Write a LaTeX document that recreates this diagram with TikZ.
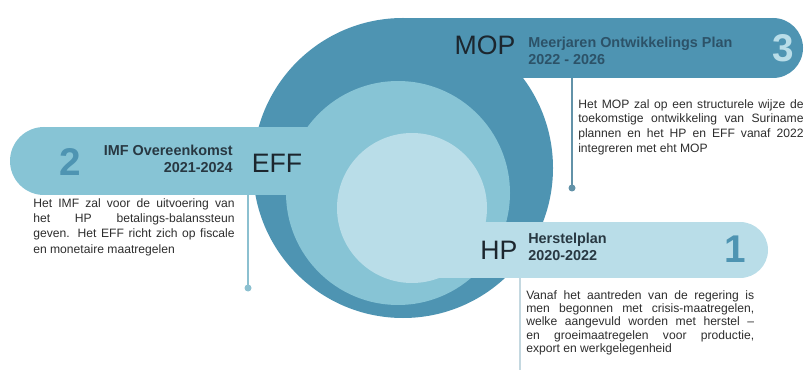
\documentclass[tikz,border=0pt]{standalone}
\usepackage{fontspec}
\setmainfont{Liberation Sans}
\definecolor{ringDark}{RGB}{78,148,178}
\definecolor{ringMid}{RGB}{135,196,213}
\definecolor{ringLight}{RGB}{185,221,232}
\definecolor{labelInk}{RGB}{28,38,46}
\definecolor{mopInk}{RGB}{44,82,104}
\definecolor{subInk}{RGB}{40,56,66}
\definecolor{bodyInk}{RGB}{45,45,45}
\definecolor{stemMop}{RGB}{98,146,168}
\definecolor{stemEff}{RGB}{140,192,208}
\definecolor{stemHp}{RGB}{196,216,224}

\begin{document}
\begin{tikzpicture}[x=0.75pt,y=0.75pt,yscale=-1,xscale=1,
  bigLabel/.style={inner sep=0.75pt,font=\fontsize{20}{20}\selectfont,text=labelInk},
  subTitle/.style={inner sep=0.75pt,font=\fontsize{10.8}{13}\selectfont\bfseries},
  stepNum/.style={inner sep=0.75pt,font=\fontsize{29}{29}\selectfont\bfseries},
  bodyText/.style={anchor=north west,inner sep=0pt,align=justify,text=bodyInk},
  stem/.style={line width=1.5pt}]
\useasboundingbox (0,0) rectangle (806,370);

%Outer ring with MOP banner
\fill[ringDark] (403,168) circle (150);
\fill[ringDark] (403,18) rectangle (773,78);
\fill[ringDark] (773,48) circle (30);
%EFF banner and middle ring
\fill[ringMid] (44,127) rectangle (398,195);
\fill[ringMid] (44,161) circle (34);
\fill[ringMid] (398,193) circle (112);
%HP banner and inner disc
\fill[ringLight] (412,222) rectangle (740,278);
\fill[ringLight] (740,250) circle (28);
\fill[ringLight] (412,208) circle (75);

%stems
\coordinate (mopStemTop) at (572,78);
\coordinate (mopStemEnd) at (572,188);
\coordinate (effStemTop) at (248,195);
\coordinate (effStemEnd) at (248,288);
\coordinate (hpStemTop) at (520,278);
\coordinate (hpStemEnd) at (520,370);
\draw[stem,stemMop] (mopStemTop) -- (mopStemEnd);
\fill[stemMop] (mopStemEnd) circle (3.5);
\draw[stem,stemEff] (effStemTop) -- (effStemEnd);
\fill[stemEff] (effStemEnd) circle (3.5);
\draw[stem,stemHp,line width=1.1pt] (hpStemTop) -- (hpStemEnd);

% MOP
\node[bigLabel] (mop) at (485,45) {MOP};
\node[subTitle,anchor=west,align=left,text=mopInk] (mopTitle) at (527,51) {Meerjaren Ontwikkelings Plan\\2022 - 2026};
\node[stepNum,text=ringLight] (num3) at (783,48) {3};
\node[bodyText,text width=169pt,font=\fontsize{9.1}{11.2}\selectfont] (mopText) at (578,99) {\hyphenpenalty=10000 Het MOP zal op een structurele wijze de\linebreak toekomstige ontwikkeling van Suriname\linebreak plannen en het HP en EFF vanaf 2022\linebreak integreren met eht MOP};

% EFF
\node[bigLabel] (eff) at (277,163) {EFF};
\node[subTitle,anchor=east,align=right,text=subInk] (effTitle) at (234,159) {IMF Overeenkomst\\2021-2024};
\node[stepNum,text=ringDark] (num2) at (70,162) {2};
\node[bodyText,text width=151pt,font=\fontsize{9.1}{11.6}\selectfont] (effText) at (33,198) {\hyphenpenalty=10000 Het IMF zal voor de uitvoering van\linebreak het HP betalings-balanssteun\linebreak geven. Het EFF richt zich op fiscale\linebreak en monetaire maatregelen};

% HP
\node[bigLabel] (hp) at (499,250) {HP};
\node[subTitle,anchor=west,align=left,text=subInk] (hpTitle) at (527,247) {Herstelplan\\2020-2022};
\node[stepNum,text=ringDark] (num1) at (735,249) {1};
\node[bodyText,text width=171pt,font=\fontsize{9.1}{10.1}\selectfont] (hpText) at (526,290) {\hyphenpenalty=10000 Vanaf het aantreden van de regering is\linebreak men begonnen met crisis-maatregelen,\linebreak welke aangevuld worden met herstel --\linebreak en groeimaatregelen voor productie,\linebreak export en werkgelegenheid};
\end{tikzpicture}
\end{document}
